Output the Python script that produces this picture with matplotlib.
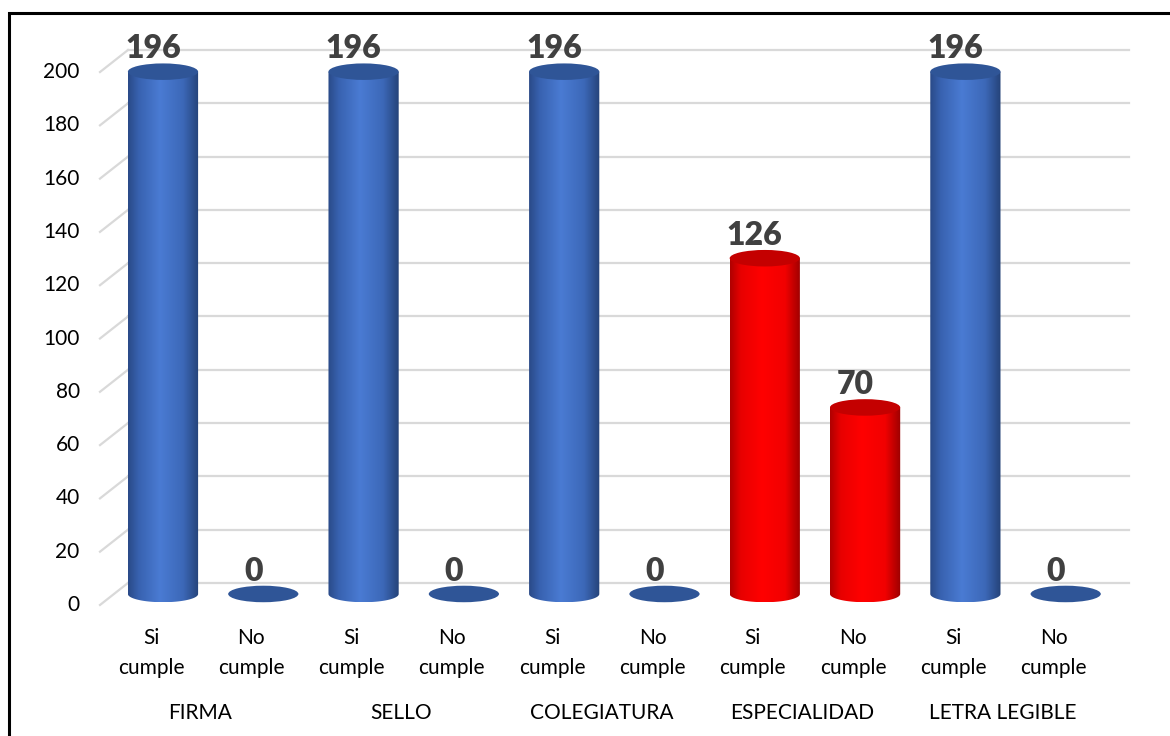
import numpy as np
import matplotlib.pyplot as plt
from matplotlib.patches import Ellipse, Polygon, Rectangle
from matplotlib.colors import to_rgb

plt.rcParams['font.family'] = ['Lato', 'DejaVu Sans']

grupos = ["FIRMA", "SELLO", "COLEGIATURA", "ESPECIALIDAD", "LETRA LEGIBLE"]
respuestas = ["Si\ncumple", "No\ncumple"]
si_cumple = [196, 196, 196, 126, 196]
no_cumple = [0, 0, 0, 70, 0]
yticks = list(range(0, 201, 20))

# bars in display order: Si / No for each group
valores = []
for s, n in zip(si_cumple, no_cumple):
    valores += [s, n]

AZUL = (["#2A4A88", "#3862B0", "#4A7BD3", "#3C68B8", "#254379"], "#2F5597")
ROJO = (["#B00000", "#E80000", "#FF0000", "#F20000", "#9C0000"], "#C40000")
pos_grad = [0.0, 0.15, 0.45, 0.78, 1.0]

ANCHO = 0.70      # cylinder width (category units)
ELIPSE = 3.1      # half height of the end ellipses (value units)
FONDO = 4.13      # depth offset of the back wall


def degradado(colores, n=120):
    t = np.linspace(0, 1, n)
    rgb = np.array([to_rgb(c) for c in colores])
    return np.stack([np.interp(t, pos_grad, rgb[:, k]) for k in range(3)], axis=-1)[None, :, :]


def cilindro(ax, xc, v, estilo):
    cuerpo, tapa = estilo
    x0, x1 = xc - ANCHO / 2, xc + ANCHO / 2
    if v <= 0:
        ax.add_patch(Ellipse((xc, 0), ANCHO, 2 * ELIPSE, facecolor=tapa,
                             edgecolor='none', zorder=4))
        return
    t = np.linspace(np.pi, 2 * np.pi, 80)
    base = list(zip(xc + ANCHO / 2 * np.cos(t), ELIPSE * np.sin(t)))
    forma = Polygon([(x0, v)] + base + [(x1, v)], closed=True,
                    facecolor='none', edgecolor='none')
    ax.add_patch(forma)
    im = ax.imshow(degradado(cuerpo), extent=[x0, x1, -ELIPSE, v],
                   aspect='auto', interpolation='bilinear', zorder=3)
    im.set_clip_path(forma)
    ax.add_patch(Ellipse((xc, v), ANCHO, 2 * ELIPSE, facecolor=tapa,
                         edgecolor='none', zorder=4))


fig = plt.figure(figsize=(11.7, 7.36), dpi=100)
ax = fig.add_axes([0, 0, 1, 1])
ax.axis('off')

# 3D-style gridlines: short diagonal from the front plane to the back wall
x_frente, x_fondo, x_fin = -0.628, -0.349, 9.63
for v in yticks:
    ax.plot([x_frente, x_fondo], [v - FONDO, v + FONDO], color="#D9D9D9", lw=1.6, zorder=1)
    ax.plot([x_fondo, x_fin], [v + FONDO, v + FONDO], color="#D9D9D9", lw=1.6, zorder=1)
    ax.text(-0.83, v - FONDO, str(v), ha='right', va='center', fontsize=15, color="#000000")

for i, v in enumerate(valores):
    estilo = ROJO if grupos[i // 2] == "ESPECIALIDAD" else AZUL
    cilindro(ax, i, v, estilo)
    ax.text(i - 0.1, v + ELIPSE + 1.9, str(v), ha='center', va='baseline',
            fontsize=23, fontweight='heavy', color="#404040", zorder=5)
    ax.text(i - 0.12, -12.8, respuestas[i % 2], ha='center', va='top',
            fontsize=15, linespacing=1.62)

for k, g in enumerate(grupos):
    ax.text(2 * k + 0.37, -44.6, g, ha='center', va='center', fontsize=15)

ax.set_xlim(-1.625, 10.04)
ax.set_ylim(-53.3, 222.9)

# outer frame (left and top edges visible)
fig.add_artist(Rectangle((9 / 1170, -0.1), 1.2, 1 - 13 / 736 + 0.1,
                         transform=fig.transFigure, fill=False,
                         edgecolor='black', lw=2.2))

fig.savefig("out.png", dpi=100)
